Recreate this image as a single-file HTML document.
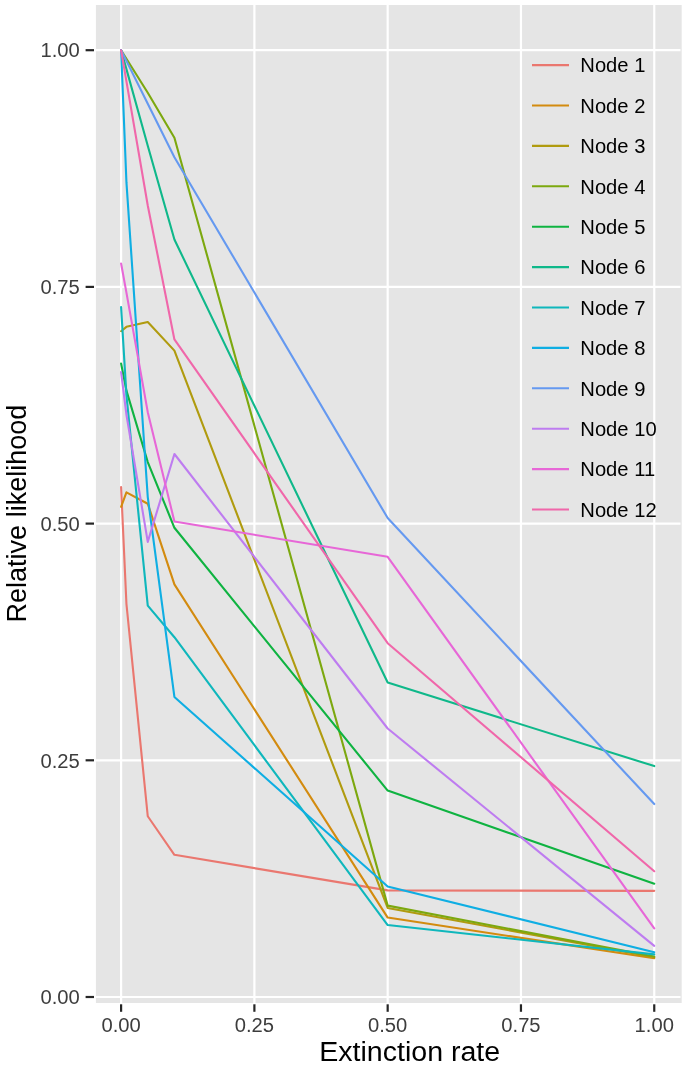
<!DOCTYPE html>
<html><head><meta charset="utf-8"><title>Relative likelihood vs extinction rate</title>
<style>html,body{margin:0;padding:0;background:#fff}svg{display:block}text{font-family:"Liberation Sans",Arial,Helvetica,sans-serif}</style></head><body>
<svg width="685" height="1073" viewBox="0 0 685 1073">
<rect x="0" y="0" width="685" height="1073" fill="#ffffff"/>
<rect x="95.9" y="5.0" width="585.8" height="998.0" fill="#E5E5E5"/>
<g stroke="#ffffff" stroke-width="2.2" fill="none">
<line x1="95.9" x2="680.5" y1="997.00" y2="997.00"/>
<line x1="95.9" x2="680.5" y1="760.30" y2="760.30"/>
<line x1="95.9" x2="680.5" y1="523.60" y2="523.60"/>
<line x1="95.9" x2="680.5" y1="286.90" y2="286.90"/>
<line x1="95.9" x2="680.5" y1="50.20" y2="50.20"/>
<line y1="5.0" y2="1003.0" x1="121.10" x2="121.10"/>
<line y1="5.0" y2="1003.0" x1="254.39" x2="254.39"/>
<line y1="5.0" y2="1003.0" x1="387.67" x2="387.67"/>
<line y1="5.0" y2="1003.0" x1="520.96" x2="520.96"/>
<line y1="5.0" y2="1003.0" x1="654.25" x2="654.25"/>
</g>
<g fill="none" stroke-width="2.1" stroke-linejoin="round" stroke-linecap="round">
<polyline stroke="#EA776F" points="121.10,487.15 126.43,603.79 147.76,816.26 174.41,854.79 387.67,890.39 654.25,890.86"/>
<polyline stroke="#D38B0F" points="121.10,506.84 126.43,492.36 147.76,503.72 174.41,584.38 387.67,917.56 654.25,958.18"/>
<polyline stroke="#B09B0F" points="121.10,331.21 126.43,326.85 147.76,322.03 174.41,350.62 387.67,907.91 654.25,957.23"/>
<polyline stroke="#7CA80F" points="121.10,50.20 126.43,58.72 147.76,92.81 174.41,137.78 387.67,905.63 654.25,956.57"/>
<polyline stroke="#0FB341" points="121.10,363.59 126.43,390.67 147.76,462.06 174.41,527.77 387.67,790.60 654.25,883.76"/>
<polyline stroke="#0FB88A" points="121.10,50.20 126.43,69.14 147.76,145.83 174.41,239.56 387.67,682.57 654.25,766.08"/>
<polyline stroke="#0FB7BC" points="121.10,307.16 126.43,395.12 147.76,605.59 174.41,637.22 387.67,925.04 654.25,954.39"/>
<polyline stroke="#0FAEE3" points="121.10,50.20 126.43,182.18 147.76,497.09 174.41,696.96 387.67,886.51 654.25,952.22"/>
<polyline stroke="#6599F0" points="121.10,50.20 126.43,60.90 147.76,103.69 174.41,157.19 387.67,518.01 654.25,804.04"/>
<polyline stroke="#BE7CF0" points="121.10,372.11 126.43,414.72 147.76,541.87 174.41,454.01 387.67,728.49 654.25,945.87"/>
<polyline stroke="#E767D7" points="121.10,263.51 126.43,292.58 147.76,412.16 174.41,521.52 387.67,556.83 654.25,928.45"/>
<polyline stroke="#F067AA" points="121.10,50.20 126.43,81.44 147.76,205.48 174.41,339.45 387.67,643.18 654.25,871.26"/>
</g>
<g stroke="#262626" stroke-width="2.2">
<line x1="85.6" x2="94" y1="997.00" y2="997.00"/>
<line y1="1004.3" y2="1011.8" x1="121.10" x2="121.10"/>
<line x1="85.6" x2="94" y1="760.30" y2="760.30"/>
<line y1="1004.3" y2="1011.8" x1="254.39" x2="254.39"/>
<line x1="85.6" x2="94" y1="523.60" y2="523.60"/>
<line y1="1004.3" y2="1011.8" x1="387.67" x2="387.67"/>
<line x1="85.6" x2="94" y1="286.90" y2="286.90"/>
<line y1="1004.3" y2="1011.8" x1="520.96" x2="520.96"/>
<line x1="85.6" x2="94" y1="50.20" y2="50.20"/>
<line y1="1004.3" y2="1011.8" x1="654.25" x2="654.25"/>
</g>
<g fill="#3d3d3d" font-size="20px">
<text x="79.8" y="1004.20" text-anchor="end" textLength="39.3" lengthAdjust="spacingAndGlyphs">0.00</text>
<text x="121.10" y="1032.3" text-anchor="middle" textLength="39.3" lengthAdjust="spacingAndGlyphs">0.00</text>
<text x="79.8" y="767.50" text-anchor="end" textLength="39.3" lengthAdjust="spacingAndGlyphs">0.25</text>
<text x="254.39" y="1032.3" text-anchor="middle" textLength="39.3" lengthAdjust="spacingAndGlyphs">0.25</text>
<text x="79.8" y="530.80" text-anchor="end" textLength="39.3" lengthAdjust="spacingAndGlyphs">0.50</text>
<text x="387.67" y="1032.3" text-anchor="middle" textLength="39.3" lengthAdjust="spacingAndGlyphs">0.50</text>
<text x="79.8" y="294.10" text-anchor="end" textLength="39.3" lengthAdjust="spacingAndGlyphs">0.75</text>
<text x="520.96" y="1032.3" text-anchor="middle" textLength="39.3" lengthAdjust="spacingAndGlyphs">0.75</text>
<text x="79.8" y="57.40" text-anchor="end" textLength="39.3" lengthAdjust="spacingAndGlyphs">1.00</text>
<text x="654.25" y="1032.3" text-anchor="middle" textLength="39.3" lengthAdjust="spacingAndGlyphs">1.00</text>
</g>
<text x="409.7" y="1061.4" font-size="27px" fill="#000" text-anchor="middle" textLength="181" lengthAdjust="spacingAndGlyphs">Extinction rate</text>
<text transform="translate(25.6,513.6) rotate(-90)" font-size="27px" fill="#000" text-anchor="middle">Relative likelihood</text>
<g font-size="20.2px" fill="#000">
<line x1="532" x2="569" y1="65.10" y2="65.10" stroke="#EA776F" stroke-width="2.1"/>
<text x="580.3" y="72.30">Node 1</text>
<line x1="532" x2="569" y1="105.50" y2="105.50" stroke="#D38B0F" stroke-width="2.1"/>
<text x="580.3" y="112.70">Node 2</text>
<line x1="532" x2="569" y1="145.90" y2="145.90" stroke="#B09B0F" stroke-width="2.1"/>
<text x="580.3" y="153.10">Node 3</text>
<line x1="532" x2="569" y1="186.30" y2="186.30" stroke="#7CA80F" stroke-width="2.1"/>
<text x="580.3" y="193.50">Node 4</text>
<line x1="532" x2="569" y1="226.70" y2="226.70" stroke="#0FB341" stroke-width="2.1"/>
<text x="580.3" y="233.90">Node 5</text>
<line x1="532" x2="569" y1="267.10" y2="267.10" stroke="#0FB88A" stroke-width="2.1"/>
<text x="580.3" y="274.30">Node 6</text>
<line x1="532" x2="569" y1="307.50" y2="307.50" stroke="#0FB7BC" stroke-width="2.1"/>
<text x="580.3" y="314.70">Node 7</text>
<line x1="532" x2="569" y1="347.90" y2="347.90" stroke="#0FAEE3" stroke-width="2.1"/>
<text x="580.3" y="355.10">Node 8</text>
<line x1="532" x2="569" y1="388.30" y2="388.30" stroke="#6599F0" stroke-width="2.1"/>
<text x="580.3" y="395.50">Node 9</text>
<line x1="532" x2="569" y1="428.70" y2="428.70" stroke="#BE7CF0" stroke-width="2.1"/>
<text x="580.3" y="435.90">Node 10</text>
<line x1="532" x2="569" y1="469.10" y2="469.10" stroke="#E767D7" stroke-width="2.1"/>
<text x="580.3" y="476.30">Node 11</text>
<line x1="532" x2="569" y1="509.50" y2="509.50" stroke="#F067AA" stroke-width="2.1"/>
<text x="580.3" y="516.70">Node 12</text>
</g>
</svg></body></html>
